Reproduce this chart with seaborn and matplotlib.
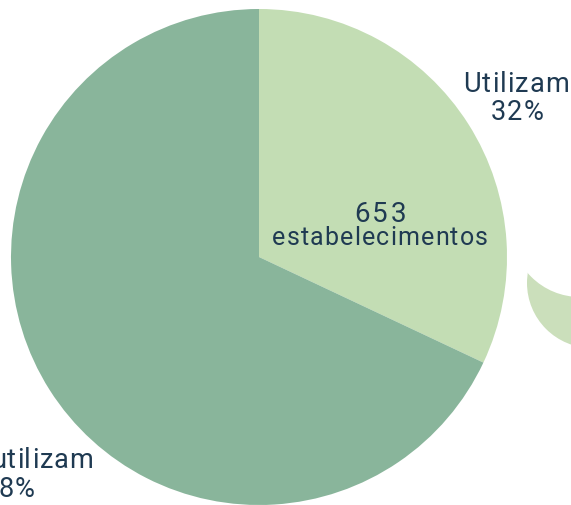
import numpy as np
import matplotlib
matplotlib.use("Agg")
import matplotlib.pyplot as plt
import seaborn as sns
from matplotlib.patches import Circle
from matplotlib import font_manager
from matplotlib.ft2font import FT2Font

# --- data -------------------------------------------------------------
categories = ["Utilizam", "Não utilizam"]
shares = [32, 68]                    # percent of establishments
total_count = "653"
total_unit = "estabelecimentos"

# --- style ------------------------------------------------------------
sns.set_theme(style="white")
plt.rcParams["font.family"] = ["Roboto", "DejaVu Sans"]
palette = ["#c3ddb4", "#89b59b"]
text_color = "#1f3a52"

W, H = 571, 505
fig = plt.figure(figsize=(W / 100, H / 100), dpi=100)
ax = fig.add_axes([0, 0, 1, 1])


def py(y):
    """Convert a top-down pixel row to the axes' bottom-up coordinate."""
    return H - y


# fragment of a neighbouring light-green shape at the right border
ax.add_patch(Circle((592, py(283)), 65, color="#cbdfbb", lw=0, zorder=1))
ax.add_patch(Circle((580, py(228)), 69, color="white", lw=0, zorder=2))

# --- pie --------------------------------------------------------------
wedges, _ = ax.pie(
    shares,
    colors=palette,
    startangle=90,
    counterclock=False,
    center=(259, py(257)),
    radius=248,
    wedgeprops=dict(linewidth=0),
    frame=True,
)
for w in wedges:
    w.set_zorder(3)
ax.set_xlim(0, W)
ax.set_ylim(0, H)
ax.set_aspect("equal")
ax.axis("off")

# --- text helpers -----------------------------------------------------
font_path = font_manager.findfont(font_manager.FontProperties(family="Roboto"))


def tracked_text(s, xc, y_base, size, tracking):
    """Draw a string centred at xc with extra spacing (px) between letters."""
    ft = FT2Font(font_path)
    ft.set_size(size, 72)
    px_per_pt = 100 / 72
    adv = []
    for ch in s:
        g = ft.load_char(ord(ch))
        adv.append(g.linearHoriAdvance / 65536 * px_per_pt)
    total = sum(adv) + tracking * (len(s) - 1)
    x = xc - total / 2
    for ch, a in zip(s, adv):
        ax.text(x, py(y_base), ch, fontsize=size, color=text_color,
                ha="left", va="baseline", family="Roboto", zorder=5)
        x += a + tracking


# centre annotation inside the "Utilizam" slice
tracked_text(total_count, 380, 222, 20, 2.5)
tracked_text(total_unit, 380, 245, 18, 1.2)

# slice labels: (name x, name baseline, percent x, percent baseline)
label_pos = [(516, 92, 517, 120), (12, 468, 8, 497)]
for cat, share, (x1, y1, x2, y2) in zip(categories, shares, label_pos):
    tracked_text(cat, x1, y1, 19.5, 1.0)
    tracked_text(f"{share}%", x2, y2, 19.5, 1.0)

fig.savefig("out.png", dpi=100)
